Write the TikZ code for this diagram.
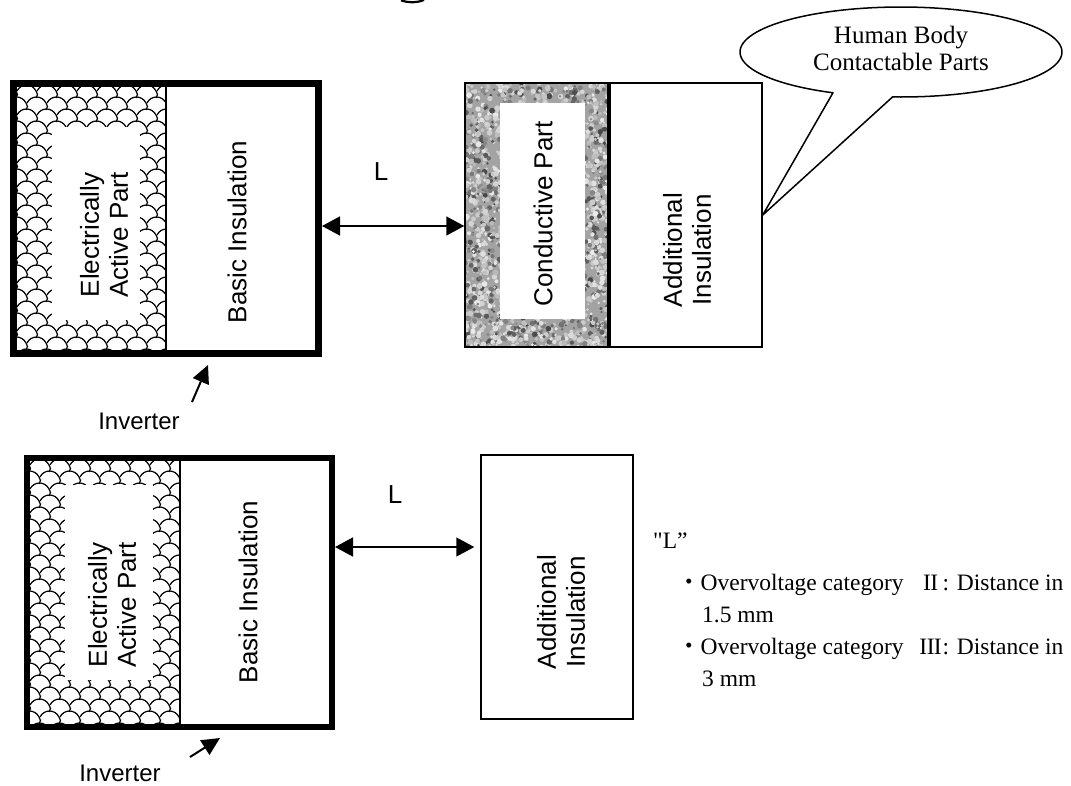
\documentclass[tikz,border=0pt]{standalone}
\usepackage{fontspec}
\setmainfont{Liberation Serif}
\setsansfont{Liberation Sans}
\newfontfamily\cjkfont{Noto Sans CJK JP}
\newfontfamily\rawserif{Liberation Serif}
\usetikzlibrary{arrows.meta}

% serif roman numerals built from joined capitals
\newcommand\romanII{I\kern-0.6pt I}
\newcommand\romanIII{I\kern-0.6pt I\kern-0.6pt I}

% shingle-like scale pattern inside a rectangle (x0,y0,x1,y1)
\newcommand\shinglefill[4]{%
  \begin{scope}
    \clip (#1,#2) rectangle (#3,#4);
    \foreach \r in {0,...,24}{
      \foreach \c in {-1,...,8}{
        \pgfmathsetmacro\sx{#1+20*\c+10*mod(\r,2)}
        \pgfmathsetmacro\sy{#2+4+12*\r}
        \draw[shingle] (\sx,\sy) .. controls (\sx+4,\sy-8) and (\sx+15,\sy-8) .. (\sx+19,\sy)
                       .. controls (\sx+21,\sy+2) and (\sx+21,\sy+5) .. (\sx+19,\sy+7);
      }
    }
  \end{scope}}

% mottled grey texture inside a rectangle (x0,y0,w,h)
\newcommand\specklefill[4]{%
  \begin{scope}
    \clip (#1,#2) rectangle ++(#3,#4);
    \fill[black!36] (#1,#2) rectangle ++(#3,#4);
    \pgfmathsetseed{1234}
    \foreach \k in {1,...,2200}{
      \pgfmathsetmacro\px{#1+#3*rnd}
      \pgfmathsetmacro\py{#2+#4*rnd}
      \pgfmathsetmacro\pick{rnd}
      \pgfmathtruncatemacro\gl{\pick<0.62 ? 8+20*rnd : 45+28*rnd}
      \pgfmathsetmacro\rr{1.1+1.9*rnd}
      \fill[black!\gl] (\px,\py) circle[radius=\rr pt];
    }
  \end{scope}}

\tikzset{
  shingle/.style={line width=1.2pt, black},
  heavyframe/.style={draw, inner sep=0pt},
  panel/.style={draw, line width=1.5pt, inner sep=0pt},
  boxtext/.style={font=\sffamily\fontsize{26}{29}\selectfont, align=center, rotate=90, inner sep=0pt},
  dimlabel/.style={font=\sffamily\fontsize{26}{29}\selectfont, inner sep=0pt},
  invlabel/.style={font=\sffamily\fontsize{24}{28}\selectfont, inner sep=0pt},
  dimarrow/.style={line width=1.5pt, {Triangle[length=18pt,width=19pt]}-{Triangle[length=18pt,width=19pt]}},
  pointer/.style={line width=2pt, -{Triangle[length=18pt,width=17pt]}},
  note/.style={font=\fontsize{23.5}{32}\selectfont, anchor=base west, inner sep=0pt},
  bubble/.style={draw, line width=1.5pt, fill=white, line join=round},
  bubbletext/.style={font=\fontsize{25}{27}\selectfont, align=center, inner sep=0pt},
}

\begin{document}
\begin{tikzpicture}[x=1pt, y=-1pt]
\useasboundingbox (0,0) rectangle (1071,785);

% small arc cut by the top edge
\draw[line width=2.2pt] (401,0.3) .. controls (409,3) and (416,3) .. (424,0);

% ---------------- upper arrangement ----------------
\shinglefill{17}{87}{166}{350}
\fill[white] (52,127) rectangle (140,320);
\draw[line width=1.5pt] (166,87) -- (166,350);
\node[heavyframe, line width=7pt, minimum width=305pt, minimum height=270pt] (topOuter) at (166,218.5) {};
\node[boxtext] (topEAP) at (104,235) {Electrically\\Active Part};
\node[boxtext] (topBasic) at (237,232) {Basic Insulation};

\specklefill{465}{83}{143}{264}
\fill[white] (500,103) rectangle (585,319);
\node[panel, minimum width=143pt, minimum height=264pt] (cond) at (536.5,215) {};
\node[boxtext] (condText) at (543,214) {Conductive Part};

\node[panel, fill=white, minimum width=152pt, minimum height=264pt] (addTop) at (686,215) {};
\node[boxtext] (addTopText) at (687,250) {Additional\\Insulation};

\coordinate (topLevel) at (0,226);
\draw[dimarrow] (topOuter.east |- topLevel) -- (cond.west |- topLevel);
\node[dimlabel] (topL) at (381,172) {L};

\coordinate (invTopTail) at (192,402);
\coordinate (invTopTip) at (208,365);
\draw[pointer] (invTopTail) -- (invTopTip);
\node[invlabel] (invTop) at (139,421) {Inverter};

% speech bubble
\draw[bubble] plot[domain=115:453, samples=120] ({901+161*cos(\x)},{52+45*sin(\x)})
  -- (addTop.east) -- cycle;
\node[bubbletext] (humanText) at (901,48) {Human Body\\Contactable Parts};

% ---------------- lower arrangement ----------------
\shinglefill{30}{461}{180}{724}
\fill[white] (65,485) rectangle (153,680);
\draw[line width=1.5pt] (180,461) -- (180,724);
\node[heavyframe, line width=6pt, minimum width=305pt, minimum height=269pt] (botOuter) at (179.5,592.5) {};
\node[boxtext] (botEAP) at (112,605) {Electrically\\Active Part};
\node[boxtext] (botBasic) at (248,592) {Basic Insulation};

\node[panel, fill=white, minimum width=152pt, minimum height=264pt] (addBot) at (557,587) {};
\node[boxtext] (addBotText) at (561,612) {Additional\\Insulation};

\coordinate (botLevel) at (0,547);
\draw[dimarrow, shorten >=6pt] (botOuter.east |- botLevel) -- (addBot.west |- botLevel);
\node[dimlabel] (botL) at (395,495) {L};

\coordinate (invBotTail) at (190,757);
\coordinate (invBotTip) at (220,738);
\draw[pointer] (invBotTail) -- (invBotTip);
\node[invlabel] (invBot) at (120,773) {Inverter};

% explanation of L
\node[note] (noteHead) at (653,548) {{\rawserif"}L”};
\node[note] (noteA) at (677,590) {{\cjkfont ・}Overvoltage category\kern15pt\makebox[24pt]{\romanII}: Distance in};
\node[note] (noteA2) at (702,622) {1.5 mm};
\node[note] (noteB) at (677,654) {{\cjkfont ・}Overvoltage category\kern15pt\makebox[24pt]{\romanIII}: Distance in};
\node[note] (noteB2) at (702,686) {3 mm};
\end{tikzpicture}
\end{document}
